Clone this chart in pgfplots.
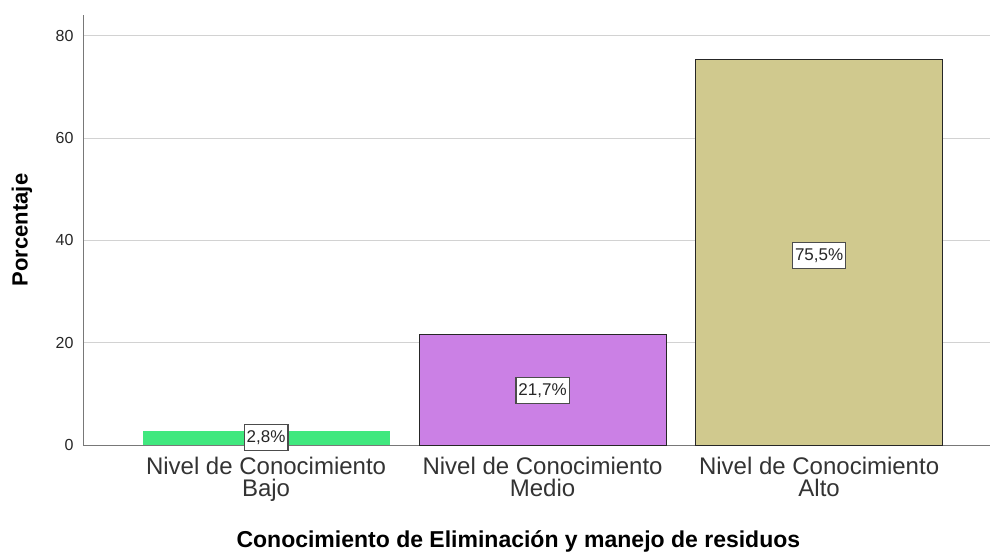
\documentclass[border=0pt]{standalone}
\usepackage{pgfplots}
\pgfplotsset{compat=1.18}
\usepackage{fontspec}
\setmainfont{Liberation Sans}
\definecolor{cgreen}{RGB}{64,232,126}
\definecolor{cpurple}{RGB}{203,128,229}
\definecolor{ctan}{RGB}{208,201,142}
\definecolor{cgrid}{RGB}{210,210,210}
\definecolor{caxis}{RGB}{120,120,120}
\begin{document}
\begin{tikzpicture}[x=1pt,y=1pt]
\path[use as bounding box] (0,0) rectangle (990,554);
\begin{axis}[
  at={(83pt,109pt)}, anchor=south west,
  scale only axis, width=907pt, height=430pt,
  xmin=-0.662, xmax=2.618, ymin=0, ymax=84.1,
  axis x line*=bottom, axis y line*=left,
  axis line style={caxis, line width=1pt},
  x axis line style={-}, y axis line style={-},
  xtick={0,1,2},
  xticklabels={{Nivel de Conocimiento\\Bajo},{Nivel de Conocimiento\\Medio},{Nivel de Conocimiento\\Alto}},
  xticklabel style={align=center, font=\fontsize{24}{22}\selectfont, text=black!80, yshift=-9pt},
  major x tick style={draw=none},
  ytick={0,20,40,60,80},
  yticklabel style={font=\fontsize{16}{16}\selectfont, text=black!85, xshift=-6pt},
  /pgf/number format/assume math mode=true,
  major y tick style={draw=none},
  ymajorgrids, grid style={cgrid, line width=1pt},
  xlabel={\textbf{Conocimiento de Eliminación y manejo de residuos}},
  xlabel style={font=\fontsize{23}{23}\selectfont, at={(axis description cs:0.48,0)}, anchor=center, yshift=-96pt},
  ylabel={\textbf{Porcentaje}},
  ylabel style={font=\fontsize{22}{22}\selectfont, at={(axis description cs:0,0.5)}, anchor=center, rotate=0, yshift=61pt},
  clip=false,
]
\addplot[ybar, bar width=0.893, fill=cgreen, draw=none, bar shift=0] coordinates {(0,2.8)};
\addplot[ybar, bar width=0.893, fill=cpurple, draw=black!85, line width=0.8pt, bar shift=0] coordinates {(1,21.7)};
\addplot[ybar, bar width=0.893, fill=ctan, draw=black!85, line width=0.8pt, bar shift=0] coordinates {(2,75.5)};
\addplot[only marks, mark=none, nodes near coords, point meta=explicit symbolic,
  nodes near coords style={draw=black!70, fill=white, anchor=center, inner xsep=2.5pt, inner ysep=0pt, minimum height=26pt, line width=1.3pt, text=black!85, font=\fontsize{17}{17}\selectfont}]
  coordinates {(0,1.4)[2,8\%] (1,10.6)[21,7\%] (2,37.1)[75,5\%]};
\end{axis}
\end{tikzpicture}
\end{document}
